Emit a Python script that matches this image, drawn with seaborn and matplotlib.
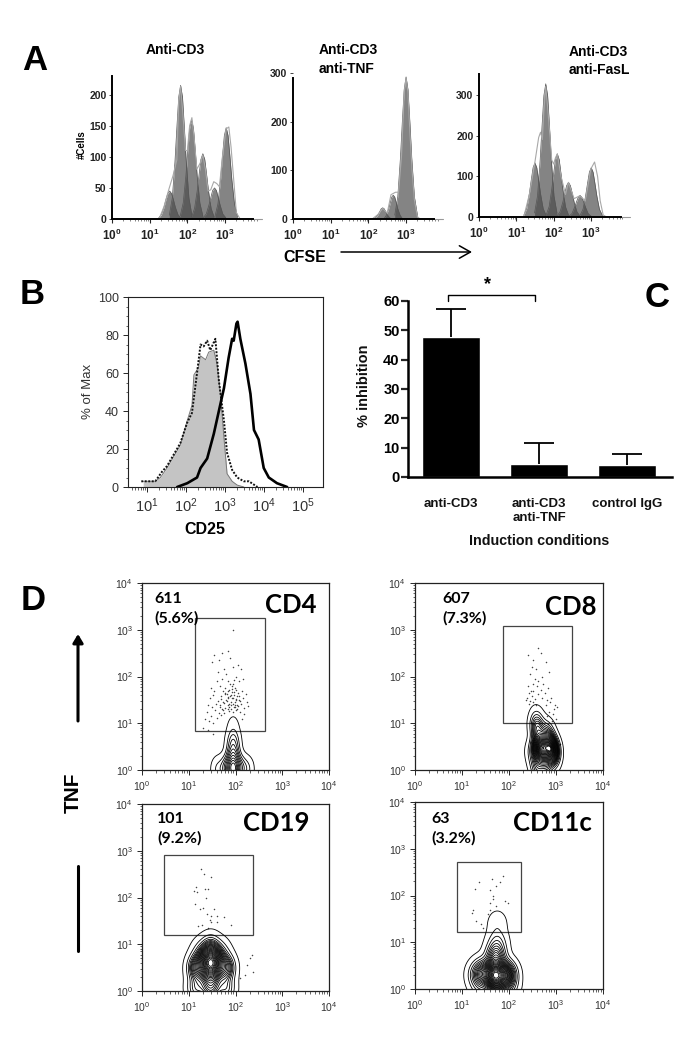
import matplotlib
matplotlib.use("Agg")
import matplotlib.pyplot as plt
from matplotlib.patches import Rectangle
import numpy as np
import pandas as pd
import seaborn as sns

W, H = 692, 1050

# ----------------------------
# Panel A: CFSE histograms (log10 CFSE, #cells)
# ----------------------------
A1_PEAKS_X = [
    [1.23, 1.31, 1.38, 1.43, 1.48, 1.53, 1.58, 1.63, 1.68, 1.75, 1.83],
    [1.52, 1.60, 1.67, 1.72, 1.77, 1.82, 1.87, 1.92, 1.97, 2.04, 2.12],
    [1.81, 1.89, 1.96, 2.01, 2.06, 2.11, 2.16, 2.21, 2.26, 2.33, 2.41],
    [2.11, 2.19, 2.26, 2.31, 2.36, 2.41, 2.46, 2.51, 2.56, 2.63, 2.71],
    [2.42, 2.50, 2.57, 2.62, 2.67, 2.72, 2.77, 2.82, 2.87, 2.94, 3.02],
    [2.73, 2.81, 2.88, 2.93, 2.98, 3.03, 3.08, 3.13, 3.18, 3.25, 3.33],
]
A1_PEAKS_Y = [
    [1, 7, 19, 31, 41, 45, 41, 31, 19, 7, 1],
    [6, 34, 92, 146, 196, 215, 196, 146, 92, 34, 6],
    [5, 26, 69, 109, 146, 160, 146, 109, 69, 26, 5],
    [3, 17, 45, 71, 96, 105, 96, 71, 45, 17, 3],
    [2, 8, 22, 34, 46, 50, 46, 34, 22, 8, 2],
    [4, 24, 63, 100, 134, 147, 134, 100, 63, 24, 4],
]
A1_OUTLINE_X = [1.25, 1.38, 1.50, 1.62, 1.72, 1.77, 1.82, 1.88, 1.95, 2.00, 2.06, 2.12, 2.18, 2.25, 2.34, 2.41, 2.48, 2.55, 2.62, 2.70, 2.78, 2.85, 2.93, 3.03, 3.10, 3.16, 3.22, 3.30, 3.40]
A1_OUTLINE_Y = [0, 20, 46, 70, 95, 190, 213, 170, 110, 110, 150, 163, 130, 80, 90, 103, 80, 45, 47, 60, 57, 52, 100, 145, 148, 115, 70, 10, 0]

A2_PEAKS_X = [
    [2.14, 2.20, 2.26, 2.30, 2.34, 2.38, 2.42, 2.46, 2.50, 2.56, 2.62],
    [2.42, 2.48, 2.54, 2.58, 2.62, 2.66, 2.70, 2.74, 2.78, 2.84, 2.90],
    [2.70, 2.78, 2.85, 2.90, 2.95, 3.00, 3.05, 3.10, 3.15, 3.22, 3.30],
]
A2_PEAKS_Y = [
    [0, 3, 9, 15, 21, 23, 21, 15, 9, 3, 0],
    [1, 8, 21, 33, 45, 49, 45, 33, 21, 8, 1],
    [8, 46, 125, 199, 266, 292, 266, 199, 125, 46, 8],
]
A2_OUTLINE_X = [2.10, 2.25, 2.38, 2.50, 2.60, 2.72, 2.80, 2.88, 2.95, 3.00, 3.05, 3.10, 3.16, 3.22, 3.30, 3.37]
A2_OUTLINE_Y = [0, 9, 22, 12, 50, 55, 55, 130, 260, 290, 260, 180, 100, 40, 5, 0]

A3_PEAKS_X = [
    [1.20, 1.28, 1.35, 1.40, 1.45, 1.50, 1.55, 1.60, 1.65, 1.72, 1.80],
    [1.49, 1.57, 1.64, 1.69, 1.74, 1.79, 1.84, 1.89, 1.94, 2.01, 2.09],
    [1.80, 1.88, 1.95, 2.00, 2.05, 2.10, 2.15, 2.20, 2.25, 2.32, 2.40],
    [2.10, 2.18, 2.25, 2.30, 2.35, 2.40, 2.45, 2.50, 2.55, 2.62, 2.70],
    [2.41, 2.49, 2.56, 2.61, 2.66, 2.71, 2.76, 2.81, 2.86, 2.93, 3.01],
    [2.71, 2.79, 2.86, 2.91, 2.96, 3.01, 3.06, 3.11, 3.16, 3.23, 3.31],
]
A3_PEAKS_Y = [
    [4, 21, 57, 90, 121, 133, 121, 90, 57, 21, 4],
    [10, 52, 140, 222, 298, 327, 298, 222, 140, 52, 10],
    [5, 25, 67, 105, 141, 155, 141, 105, 67, 25, 5],
    [3, 14, 37, 58, 77, 85, 77, 58, 37, 14, 3],
    [2, 8, 23, 36, 48, 53, 48, 36, 23, 8, 2],
    [4, 19, 52, 82, 110, 121, 110, 82, 52, 19, 4],
]
A3_OUTLINE_X = [1.20, 1.35, 1.50, 1.60, 1.65, 1.70, 1.74, 1.79, 1.85, 1.95, 2.00, 2.05, 2.10, 2.20, 2.32, 2.40, 2.55, 2.70, 2.85, 3.00, 3.10, 3.18, 3.25, 3.33, 3.42]
A3_OUTLINE_Y = [0, 55, 135, 195, 208, 190, 260, 320, 260, 140, 130, 145, 155, 100, 55, 85, 45, 52, 40, 118, 135, 100, 40, 5, 0]

# ----------------------------
# Panel B: CD25 overlay (log10 CD25, % of max)
# ----------------------------
B_FILL_X = [0.90, 1.21, 1.34, 1.51, 1.68, 1.85, 2.03, 2.15, 2.20, 2.32, 2.37, 2.50, 2.58, 2.71, 2.79, 2.88, 2.97, 3.05, 3.18, 3.31, 3.48]
B_FILL_Y = [3, 3, 5, 10, 16, 22, 35, 43, 59, 63, 69, 67, 71, 72, 65, 49, 26, 7, 3, 1, 0]
B_DOT_X = [0.85, 1.21, 1.38, 1.51, 1.68, 1.85, 2.03, 2.15, 2.28, 2.37, 2.45, 2.54, 2.62, 2.75, 2.84, 2.97, 3.05, 3.18, 3.31, 3.48, 3.61, 3.83]
B_DOT_Y = [3, 3, 8, 11, 17, 23, 34, 39, 60, 75, 74, 77, 72, 78, 56, 35, 18, 9, 5, 3, 3, 0]
B_LINE_X = [1.77, 2.03, 2.28, 2.37, 2.54, 2.71, 2.84, 2.97, 3.09, 3.18, 3.22, 3.29, 3.32, 3.39, 3.52, 3.65, 3.74, 3.86, 3.99, 4.12, 4.33, 4.59]
B_LINE_Y = [0, 2, 5, 10, 15, 28, 40, 52, 68, 78, 77, 86, 87, 78, 65, 49, 30, 25, 10, 5, 2, 0]

# ----------------------------
# Panel C: % inhibition bars
# ----------------------------
C_LABELS = ["anti-CD3", "anti-CD3\nanti-TNF", "control IgG"]
C_VALUES = [47.6, 4.4, 4.0]
C_TOPS = [57.4, 11.7, 7.7]

# ----------------------------
# Panel D: TNF flow plots, density seeds and outlying events (log10 units)
# ----------------------------
D_TITLES = ["CD4", "CD8", "CD19", "CD11c"]
D_COUNTS = ["611\n(5.6%)", "607\n(7.3%)", "101\n(9.2%)", "63\n(3.2%)"]
D_GATES_X = [(1.14, 2.64), (1.87, 3.33), (0.48, 2.38), (0.89, 2.26)]
D_GATES_Y = [(0.84, 3.26), (1.00, 3.09), (1.19, 2.90), (1.21, 2.71)]

CD4_SEED_X = [1.95, 1.95, 1.95, 1.95, 1.95, 1.80, 2.10, 1.62, 2.25]
CD4_SEED_Y = [0.02, 0.30, 0.60, 0.88, 1.05, 0.05, 0.05, 0.02, 0.02]
CD4_SEED_W = [12, 5, 2.5, 0.5, 0.12, 3, 3, 1.2, 1.2]

CD8_SEED_X = [2.66, 2.90, 2.78, 2.60, 2.82, 2.60, 2.60, 2.78, 2.92, 2.50]
CD8_SEED_Y = [0.46, 0.45, 0.50, 0.90, 0.80, 0.05, 1.12, 0.10, 0.25, 0.35]
CD8_SEED_W = [10, 10, 4, 3, 2, 2, 0.7, 2, 1, 1]

CD19_SEED_X = [1.47, 1.47, 1.18, 1.78, 1.47, 1.47, 1.15, 1.80, 1.47, 1.25, 1.70]
CD19_SEED_Y = [0.60, 0.60, 0.50, 0.50, 0.95, 0.20, 0.05, 0.05, 0.00, 0.85, 0.85]
CD19_SEED_W = [14, 6, 4, 4, 2, 3, 2, 2, 2, 1, 1]

CD11C_SEED_X = [1.70, 1.91, 1.45, 1.72, 1.75, 1.75, 1.32, 1.98, 1.75, 1.40, 2.0]
CD11C_SEED_Y = [0.30, 0.30, 0.35, 0.70, 1.00, 1.40, 0.30, 0.30, 0.05, 0.05, 0.05]
CD11C_SEED_W = [14, 6, 4, 4, 1.2, 0.45, 1.5, 1.5, 2, 1, 1]

CD4_DOT_X = [1.95, 1.55, 1.72, 1.84, 1.88, 1.65, 1.50, 1.95, 2.05, 1.75,
             1.80, 1.62, 2.02, 2.12, 1.60, 1.72, 1.85, 1.94, 2.08, 2.15,
             1.48, 1.55, 1.66, 1.78, 1.86, 1.92, 1.98, 2.05, 2.14, 2.22,
             1.45, 1.52, 1.62, 1.70, 1.78, 1.84, 1.90, 1.96, 2.02, 2.08,
             2.16, 2.24, 1.42, 1.50, 1.58, 1.66, 1.74, 1.80, 1.86, 1.92,
             1.98, 2.04, 2.10, 2.18, 2.26, 1.40, 1.48, 1.56, 1.64, 1.72,
             1.78, 1.84, 1.90, 1.96, 2.02, 2.10, 2.18, 1.35, 1.44, 1.52,
             1.60, 1.68, 1.76, 1.86, 1.94, 2.04, 2.14, 1.30, 1.42, 1.52,
             1.82, 1.88, 1.94, 2.00, 1.76, 1.90, 1.97, 1.83, 2.06, 1.70,
             1.92, 1.99, 1.87, 2.11, 1.74, 1.81, 1.95, 2.03, 1.67, 1.89,
             1.93, 1.85, 2.00, 1.78, 1.91, 1.96, 2.07, 1.73, 1.84, 1.98]
CD4_DOT_Y = [3.00, 2.45, 2.50, 2.55, 2.40, 2.35, 2.30, 2.20, 2.25, 2.15,
             2.05, 2.10, 2.00, 2.15, 1.90, 1.95, 1.90, 1.85, 1.90, 1.95,
             1.75, 1.70, 1.80, 1.75, 1.72, 1.80, 1.75, 1.65, 1.70, 1.62,
             1.55, 1.60, 1.48, 1.58, 1.62, 1.55, 1.60, 1.66, 1.52, 1.58,
             1.55, 1.45, 1.40, 1.35, 1.42, 1.38, 1.45, 1.50, 1.42, 1.55,
             1.45, 1.40, 1.48, 1.32, 1.36, 1.25, 1.15, 1.28, 1.22, 1.30,
             1.33, 1.38, 1.30, 1.35, 1.28, 1.25, 1.20, 1.10, 1.05, 1.00,
             1.12, 1.18, 1.22, 1.27, 1.24, 1.30, 1.10, 0.90, 0.85, 0.78,
             1.62, 1.58, 1.54, 1.50, 1.44, 1.46, 1.60, 1.68, 1.36, 1.52,
             1.74, 1.40, 1.34, 1.42, 1.28, 1.48, 1.42, 1.58, 1.34, 1.84,
             1.66, 1.30, 1.72, 1.64, 1.38, 1.92, 1.50, 1.70, 1.56, 1.34]

CD8_DOT_X = [2.62, 2.40, 2.52, 2.68, 2.78, 2.48, 2.58, 2.45, 2.70, 2.85,
             2.55, 2.62, 2.40, 2.72, 2.82, 2.50, 2.60, 2.46, 2.68, 2.76,
             2.42, 2.52, 2.62, 2.38, 2.48, 2.70, 2.80, 2.56, 2.44, 2.90,
             2.36, 2.42, 2.50, 2.58, 2.88, 2.78, 2.96, 3.02, 2.94, 2.86,
             2.80, 3.00, 2.92, 3.08, 2.98, 2.84]
CD8_DOT_Y = [2.60, 2.45, 2.35, 2.50, 2.30, 2.20, 2.15, 2.05, 2.00, 2.10,
             1.95, 1.90, 1.80, 1.85, 1.75, 1.85, 1.80, 1.70, 1.72, 1.65,
             1.65, 1.68, 1.62, 1.55, 1.58, 1.55, 1.50, 1.52, 1.48, 1.55,
             1.50, 1.42, 1.46, 1.40, 1.45, 1.38, 1.30, 1.35, 1.20, 1.25,
             1.15, 1.10, 1.05, 0.55, 1.40, 0.98]

CD19_DOT_X = [1.27, 1.33, 1.47, 1.15, 1.12, 1.18, 1.35, 1.37, 1.42, 1.13,
              1.25, 1.30, 1.48, 1.55, 1.60, 1.45, 1.38, 1.48, 1.60, 1.75,
              1.28, 1.20, 1.42, 1.90, 2.35, 2.30, 2.38, 2.25, 2.20, 2.10]
CD19_DOT_Y = [2.62, 2.50, 2.43, 2.22, 2.13, 2.12, 2.18, 2.00, 2.18, 1.87,
              1.75, 1.78, 1.60, 1.75, 1.60, 1.52, 1.65, 1.48, 1.48, 1.58,
              1.42, 1.40, 1.35, 1.42, 0.78, 0.70, 0.40, 0.55, 0.35, 0.28]

CD11C_DOT_X = [1.87, 1.63, 1.37, 1.72, 1.28, 1.60, 1.67, 1.80, 1.65, 1.60,
               1.97, 1.23, 1.22, 1.55, 1.30, 1.40, 1.72, 1.60, 1.92, 1.45]
CD11C_DOT_Y = [2.42, 2.35, 2.28, 2.20, 2.13, 2.12, 2.00, 2.28, 1.92, 1.85,
               1.85, 1.70, 1.63, 1.60, 1.45, 1.38, 1.78, 1.68, 1.88, 1.30]


def box(left, top, right, bottom):
    return fig.add_axes([left / W, 1 - bottom / H, (right - left) / W, (bottom - top) / H])


def label(x, y, text, **kw):
    kw.setdefault("ha", "center")
    kw.setdefault("va", "center")
    kw.setdefault("color", "black")
    fig.text(x / W, 1 - y / H, text, **kw)


def minor_log(start, stop):
    return [d + np.log10(m) for d in range(start, stop) for m in range(2, 10)]


def hist_panel(pos, peaks_x, peaks_y, line_x, line_y, yticks, ytop, xend):
    ax = box(*pos)
    for px, py in zip(peaks_x, peaks_y):
        ax.fill_between(px, py, color="#4a4a4a", alpha=0.68, linewidth=0)
        sns.lineplot(x=px, y=py, color="#555555", linewidth=0.5, errorbar=None, ax=ax)
    sns.lineplot(x=line_x, y=line_y, color="#a8a8a8", linewidth=0.8, errorbar=None, ax=ax)
    ax.set_xlim(0, xend + 0.23)
    ax.set_ylim(0, yticks[-1] if yticks[-1] > ytop else ytop)
    ax.plot([xend, xend + 0.23], [0, 0], color="#999999", lw=0.8, clip_on=False)
    for s in ("top", "right"):
        ax.spines[s].set_visible(False)
    ax.spines["left"].set_linewidth(1.4)
    ax.spines["left"].set_bounds(0, ytop)
    ax.spines["bottom"].set_linewidth(1.4)
    ax.spines["bottom"].set_bounds(0, xend)
    ax.spines["left"].set_color("black")
    ax.spines["bottom"].set_color("black")
    ax.set_xticks([0, 1, 2, 3])
    ax.set_xticklabels([f"$\\mathbf{{10^{{{n}}}}}$" for n in range(4)], fontsize=8.5, color="#222222")
    ax.set_xticks(minor_log(0, 4)[:-2], minor=True)
    ax.set_yticks(yticks)
    ax.set_yticklabels(yticks, fontsize=7.5, fontweight="bold", color="#222222")
    ax.tick_params(axis="x", which="major", length=3, width=0.8, pad=3, bottom=True)
    ax.tick_params(axis="x", which="minor", length=1.5, width=0.4, bottom=True)
    ax.tick_params(axis="y", length=2, width=0.6, pad=2, left=True)
    ax.set_xlabel("")
    ax.set_ylabel("")
    return ax


def flow_panel(pos, idx, seed_x, seed_y, seed_w, dot_x, dot_y, levels, thresh, bw):
    ax = box(*pos)
    sns.scatterplot(x=dot_x, y=dot_y, s=1.2, color="#444444", linewidth=0, ax=ax)
    sns.kdeplot(x=seed_x, y=seed_y, weights=seed_w, levels=levels, thresh=thresh, bw_adjust=bw,
                gridsize=220, cut=8, color="black", linewidths=0.6, ax=ax)
    gx, gy = D_GATES_X[idx], D_GATES_Y[idx]
    ax.add_patch(Rectangle((gx[0], gy[0]), gx[1] - gx[0], gy[1] - gy[0], fill=False, ec="#444444", lw=0.9))
    ax.set_xlim(0, 4)
    ax.set_ylim(0, 4)
    ticklabels = [f"$\\mathregular{{10^{{{n}}}}}$" for n in range(5)]
    ax.set_xticks(range(5))
    ax.set_yticks(range(5))
    ax.set_xticklabels(ticklabels, fontsize=7.5, color="#333333")
    ax.set_yticklabels(ticklabels, fontsize=7.5, color="#333333")
    ax.set_xticks(minor_log(0, 4), minor=True)
    ax.set_yticks(minor_log(0, 4), minor=True)
    ax.tick_params(which="major", length=3.5, width=0.7, pad=3, bottom=True, left=True)
    ax.tick_params(which="minor", length=1.8, width=0.5, bottom=True, left=True)
    for s in ax.spines.values():
        s.set_linewidth(0.9)
        s.set_color("#222222")
    ax.set_xlabel("")
    ax.set_ylabel("")
    return ax


sns.set_style("white")
plt.rcParams["font.family"] = ["Liberation Sans", "DejaVu Sans"]
plt.rcParams["mathtext.fontset"] = "custom"
plt.rcParams["mathtext.rm"] = "Liberation Sans"
plt.rcParams["mathtext.bf"] = "Liberation Sans:bold"

fig = plt.figure(figsize=(W / 100, H / 100), dpi=100)

# panel A
hist_panel((112, 76, 262, 219), A1_PEAKS_X, A1_PEAKS_Y, A1_OUTLINE_X, A1_OUTLINE_Y, [0, 50, 100, 150, 200], 230, 3.75)
hist_panel((293, 73, 443, 219), A2_PEAKS_X, A2_PEAKS_Y, A2_OUTLINE_X, A2_OUTLINE_Y, [0, 100, 200, 300], 290, 3.75)
hist_panel((479, 74, 630, 217), A3_PEAKS_X, A3_PEAKS_Y, A3_OUTLINE_X, A3_OUTLINE_Y, [0, 100, 200, 300], 351, 3.82)

label(35, 60, "A", fontsize=25, fontweight="bold")
label(175, 50, "Anti-CD3", fontsize=10, fontweight="bold")
label(319, 50, "Anti-CD3", fontsize=10, fontweight="bold", ha="left")
label(319, 69, "anti-TNF", fontsize=10, fontweight="bold", ha="left")
label(569, 52, "Anti-CD3", fontsize=10, fontweight="bold", ha="left")
label(569, 70, "anti-FasL", fontsize=10, fontweight="bold", ha="left")
label(82, 145, "#Cells", fontsize=7, fontweight="bold", rotation=90)
label(305, 257, "CFSE", fontsize=11.5, fontweight="bold")
fig.add_artist(plt.Annotation("", xy=(472 / W, 1 - 252 / H), xytext=(341 / W, 1 - 252 / H),
                              xycoords="figure fraction", textcoords="figure fraction",
                              arrowprops=dict(arrowstyle="->,head_length=0.8,head_width=0.45", lw=1.1,
                                              color="black", shrinkA=0, shrinkB=0)))

# panel B
ax = box(128, 297, 323, 487)
ax.fill_between(B_FILL_X, B_FILL_Y, color="#c4c4c4", linewidth=0)
sns.lineplot(x=B_FILL_X, y=B_FILL_Y, color="#777777", linewidth=0.7, errorbar=None, ax=ax)
sns.lineplot(x=B_DOT_X, y=B_DOT_Y, color="#111111", linewidth=1.4, linestyle=(0, (1, 0.8)), errorbar=None, ax=ax)
sns.lineplot(x=B_LINE_X, y=B_LINE_Y, color="black", linewidth=1.9, errorbar=None, ax=ax)
ax.set_xlim(0.51, 5.51)
ax.set_ylim(0, 100)
ax.set_xticks([1, 2, 3, 4, 5])
ax.set_xticklabels([f"$\\mathregular{{10^{{{n}}}}}$" for n in range(1, 6)], fontsize=10.5, color="#333333")
ax.set_xticks([m for m in minor_log(0, 5) if 0.51 < m < 5.51], minor=True)
ax.set_yticks([0, 20, 40, 60, 80, 100])
ax.set_yticklabels([0, 20, 40, 60, 80, 100], fontsize=9, color="#333333")
ax.set_yticks(range(0, 100, 5), minor=True)
ax.tick_params(which="major", length=3.5, width=0.7, pad=3, bottom=True, left=True)
ax.tick_params(which="minor", length=1.8, width=0.5, bottom=True, left=True)
for s in ax.spines.values():
    s.set_linewidth(0.8)
    s.set_color("#222222")
ax.set_xlabel("")
ax.set_ylabel("")
label(88, 391, "% of Max", fontsize=9.5, rotation=90, color="#333333")
label(205, 530, "CD25", fontsize=11.5, fontweight="bold")
label(32, 295, "B", fontsize=25, fontweight="bold")

# panel C
ax = box(408, 301, 672, 477)
bars = pd.DataFrame({"condition": C_LABELS, "inhibition": C_VALUES})
sns.barplot(data=bars, x="condition", y="inhibition", color="black", saturation=1, width=0.66, ax=ax)
ax.vlines(range(3), C_VALUES, C_TOPS, color="black", lw=1.3)
ax.hlines(C_TOPS, [i - 0.17 for i in range(3)], [i + 0.17 for i in range(3)], color="black", lw=1.3)
ax.set_xlim(-0.489, 2.51)
ax.set_ylim(0, 60)
for s in ("top", "right"):
    ax.spines[s].set_visible(False)
ax.spines["left"].set_linewidth(1.8)
ax.spines["bottom"].set_linewidth(1.8)
ax.spines["left"].set_color("black")
ax.spines["bottom"].set_color("black")
ax.set_yticks(range(0, 61, 10))
ax.set_yticklabels(range(0, 61, 10), fontsize=10.5, fontweight="bold", color="black")
ax.tick_params(axis="y", length=5, width=1.6, pad=1, left=True)
ax.tick_params(axis="x", length=0, pad=15)
plt.setp(ax.get_xticklabels(), fontsize=9.5, fontweight="bold", color="#111111")
ax.set_xlabel("")
ax.set_ylabel("")
ax.plot([-0.03, -0.03, 0.95, 0.95], [60, 62, 62, 60], color="black", lw=1, clip_on=False)
label(487, 285, "*", fontsize=13, fontweight="bold")
label(364, 386, "% inhibition", fontsize=10.5, fontweight="bold", rotation=90, color="#111111")
label(539, 541, "Induction conditions", fontsize=10.3, fontweight="bold", color="#111111")
label(657, 297, "C", fontsize=25, fontweight="bold")

# panel D
POSITIONS = [(142, 583, 329, 770), (415, 583, 603, 770), (142, 804, 329, 991), (415, 802, 603, 989)]
flow_panel(POSITIONS[0], 0, CD4_SEED_X, CD4_SEED_Y, CD4_SEED_W, CD4_DOT_X, CD4_DOT_Y, 12, 0.02, 0.8)
flow_panel(POSITIONS[1], 1, CD8_SEED_X, CD8_SEED_Y, CD8_SEED_W, CD8_DOT_X, CD8_DOT_Y, 26, 0.012, 0.9)
flow_panel(POSITIONS[2], 2, CD19_SEED_X, CD19_SEED_Y, CD19_SEED_W, CD19_DOT_X, CD19_DOT_Y, 26, 0.012, 0.9)
flow_panel(POSITIONS[3], 3, CD11C_SEED_X, CD11C_SEED_Y, CD11C_SEED_W, CD11C_DOT_X, CD11C_DOT_Y, 26, 0.008, 0.85)

TEXT_BOLD = ["Lato", "DejaVu Sans"]
COUNT_POS = [(154, 609), (442, 609), (157, 829), (431, 829)]
TITLE_POS = [(291, 605), (571, 607), (276, 823), (552, 823)]
for (cx, cy), (tx, ty), title, count in zip(COUNT_POS, TITLE_POS, D_TITLES, D_COUNTS):
    label(cx, cy, count, fontsize=11.5, fontweight="bold", ha="left", family=TEXT_BOLD, linespacing=1.45)
    label(tx, ty, title, fontsize=18.5, fontweight="bold", family=TEXT_BOLD)

label(33, 601, "D", fontsize=25, fontweight="bold")
label(73, 793, "TNF", fontsize=15, fontweight="bold", rotation=90)
fig.add_artist(plt.Annotation("", xy=(78 / W, 1 - 634 / H), xytext=(78 / W, 1 - 721 / H),
                              xycoords="figure fraction", textcoords="figure fraction",
                              arrowprops=dict(arrowstyle="-|>,head_length=0.5,head_width=0.3", lw=2.2,
                                              color="black", shrinkA=0, shrinkB=0)))
fig.add_artist(plt.Line2D([78 / W, 78 / W], [1 - 866 / H, 1 - 951 / H], color="black", lw=2.2))

fig.savefig("out.png", dpi=100)
